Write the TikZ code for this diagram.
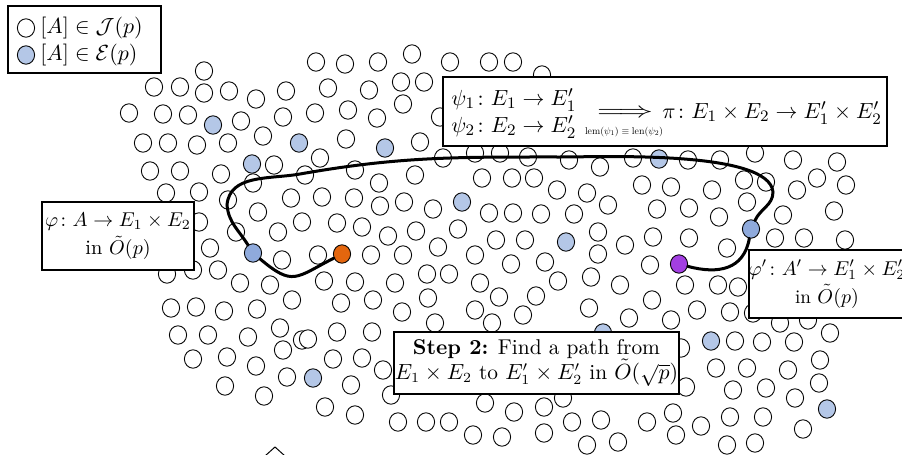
\documentclass[tikz,border=0pt]{standalone}
\usepackage{amsmath,amssymb}
\usepackage{graphicx}
\usetikzlibrary{shapes.geometric}

\definecolor{lightblue}{RGB}{180,199,231}
\definecolor{pathblue}{RGB}{143,170,220}
\definecolor{startorange}{RGB}{228,102,14}
\definecolor{endpurple}{RGB}{163,63,226}

\begin{document}
\begin{tikzpicture}[x=0.5pt, y=-0.5pt,
    dot/.style={draw, ellipse, minimum width=8.6pt, minimum height=9.2pt,
                inner sep=0pt, line width=0.45pt, fill=white},
    edot/.style={dot, fill=lightblue},
    labelbox/.style={draw, fill=white, line width=1.1pt, inner sep=0pt},
    route/.style={line width=1.5pt, line cap=round},
    every node/.style={font=\fontsize{11}{14}\selectfont}
  ]
  \useasboundingbox (0,0) rectangle (902,455);

  % isogeny classes in J(p)
  \foreach \x/\y [count=\i] in {
      204/71, 154/87, 180/87, 204/93, 229/91, 256/99, 286/91,
      129/113, 163/114, 188/115, 241/121, 283/117,
      143/143, 168/143, 197/145, 228/143, 263/136,
      316/62, 345/64, 378/62, 412/54, 450/62, 489/62, 513/62, 542/75,
      328/88, 369/90, 401/82, 424/82,
      315/113, 348/110, 377/118, 403/104, 440/117, 346/139, 420/142,
      274/165, 150/171, 180/171, 221/174, 253/183, 166/193, 199/192,
      228/200, 258/212, 291/198, 199/222, 278/232, 302/222, 236/232,
      210/248, 282/260, 167/274, 193/270, 218/270, 240/283, 270/285, 292/300,
      320/158, 443/158, 475/153, 500/153, 528/157, 569/160, 600/167,
      305/175, 355/170, 415/175,
      379/183, 482/178, 512/178, 534/178, 557/190, 587/193,
      322/197, 354/198, 380/206, 404/202, 433/209, 489/213, 513/213,
      541/214, 574/214,
      337/223, 362/227, 388/236, 416/231, 458/229, 496/240, 525/240, 598/232,
      318/255, 371/255, 403/255, 438/247, 475/255, 511/264, 545/262, 598/254,
      324/281, 355/282, 395/283, 427/274, 449/274, 480/283, 558/281, 591/277,
      341/303, 373/300, 428/298, 499/297, 536/296,
      633/158, 688/160, 720/160, 755/153, 793/160, 837/162,
      642/185, 671/187, 712/190, 744/180, 766/182, 797/190, 817/178, 846/185,
      608/205, 657/209, 689/208, 719/217, 747/202, 783/215, 834/211,
      625/245, 653/237, 689/238, 727/248, 775/238, 804/238, 845/240,
      650/265, 620/285, 685/285, 718/285, 738/287,
      171/308, 196/307, 224/311, 257/309,
      178/335, 208/335, 248/337, 280/328, 302/340,
      193/359, 227/357, 256/366, 283/350,
      225/386, 264/396, 287/377,
      402/312, 475/310, 523/315, 589/308,
      308/339, 337/332, 372/332, 435/323, 492/323,
      333/359, 362/358, 383/370, 351/385, 391/395, 325/407, 355/415,
      398/422, 426/422, 449/422, 473/435, 502/437, 485/403, 514/412,
      544/407, 544/433, 572/422, 587/445, 563/398, 601/420,
      652/300, 697/310, 730/312, 753/313, 780/323, 808/320, 830/333,
      629/318, 671/320, 735/341, 762/342, 794/342,
      681/348, 716/368, 747/368, 788/370, 820/360,
      686/387, 733/390, 766/388, 795/398, 819/383,
      673/413, 647/422, 701/426, 730/417, 763/417, 803/429,
      618/442, 676/435, 727/445, 755/443}
    \node[dot] (w\i) at (\x,\y) {};

  % isogeny classes in E(p)
  \foreach \x/\y [count=\i] in {
      213/125, 299/143, 385/148, 252/164, 462/202, 566/242,
      659/159, 603/333, 711/341, 827/409, 313/378}
    \node[edot] (e\i) at (\x,\y) {};

  \node[dot, fill=startorange] (orange) at (342,254) {};
  \node[dot, fill=endpurple] (purple) at (679,264) {};
  \node[dot, fill=pathblue] (pathl) at (253,253) {};
  \node[dot, fill=pathblue] (pathr) at (751,229) {};

  % the walk
  \coordinate (bendtl) at (227,205);
  \coordinate (bendtop) at (300,174);
  \coordinate (topmid) at (560,157);
  \coordinate (bendtr) at (773,192);
  \draw[route] (orange) to[out=207, in=-40, looseness=1.5] (pathl);
  \draw[route] (pathl) to[out=122, in=-85] (bendtl)
    to[out=85, in=190] (bendtop) to[out=10, in=180] (topmid)
    to[out=0, in=95, looseness=0.5] (bendtr) to[out=-90, in=65] (pathr);
  \draw[route] (pathr) to[out=-100, in=-15, looseness=1.2] (purple);

  % legend
  \node[labelbox, minimum width=76.5pt, minimum height=33.5pt] (legend) at (84.5,39.5) {};
  \node[dot] (keyj) at (26,28) {};
  \node[edot] (keye) at (26,55) {};
  \node[anchor=west, inner sep=0pt] (keyjtext) at (40,28) {$[A]\in\mathcal{J}(p)$};
  \node[anchor=west, inner sep=0pt] (keyetext) at (40,55) {$[A]\in\mathcal{E}(p)$};

  % boxes
  \node[labelbox, minimum width=76pt, minimum height=34pt, align=center,
        font=\fontsize{10.2}{14}\selectfont] (phibox)
    at (118,236) {$\varphi\colon A\to E_1\times E_2$\\ in $\tilde{O}(p)$};
  \node[labelbox, minimum width=76pt, minimum height=34pt, align=center,
        font=\fontsize{9.6}{14}\selectfont] (phiprimebox)
    at (827,284) {$\varphi'\colon A'\to E_1'\times E_2'$\\ in $\tilde{O}(p)$};

  \node[labelbox, minimum width=222pt, minimum height=34.5pt] (psibox) at (665,111.5) {};
  \node[anchor=west, inner sep=0pt] (psione) at (451,100) {$\psi_1\colon E_1\to E_1'$};
  \node[anchor=west, inner sep=0pt] (psitwo) at (451,127) {$\psi_2\colon E_2\to E_2'$};
  \node[inner sep=0pt] (implies) at (625,113) {\scalebox{1.6}[1]{$\Longrightarrow$}};
  \node[inner sep=0pt] (lenrule) at (624,132)
    {\resizebox{39pt}{!}{$\mathrm{lem}(\psi_1)\equiv\mathrm{len}(\psi_2)$}};
  \node[anchor=west, inner sep=0pt] (pimap) at (662,113)
    {$\pi\colon E_1\times E_2\to E_1'\times E_2'$};

  \node[labelbox, minimum width=142.5pt, minimum height=31pt, align=center,
        font=\fontsize{10.7}{12.5}\selectfont] (stepbox) at (536.5,363)
    {\textbf{Step 2:} Find a path from\\ $E_1\times E_2$ to $E_1'\times E_2'$ in $\tilde{O}(\sqrt{p})$};

  % cut-off accent at the bottom edge
  \draw[line width=0.5pt] (265,456) -- (275,447) -- (285,456);
\end{tikzpicture}
\end{document}
